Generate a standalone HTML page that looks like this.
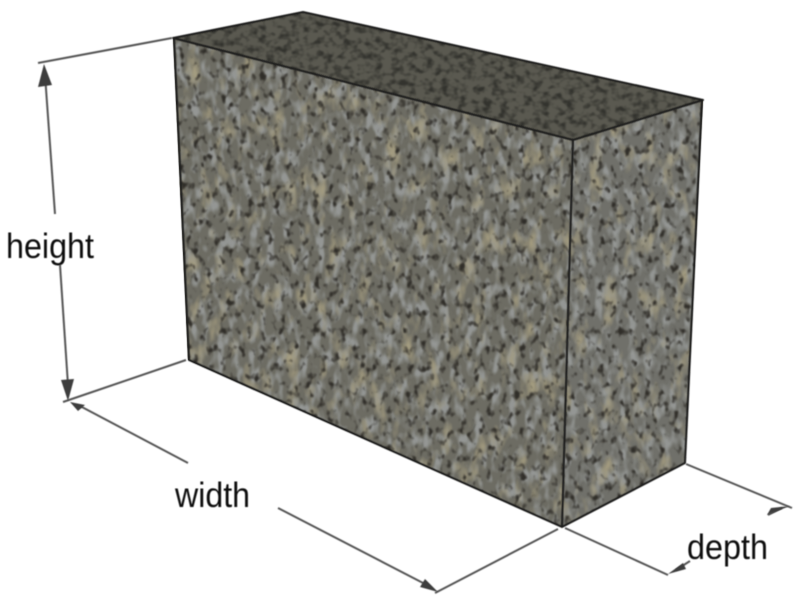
<!DOCTYPE html>
<html lang="en">
<head>
<meta charset="utf-8">
<title>Gabion dimensions</title>
<style>
html,body{margin:0;padding:0;background:#fff;}
svg{display:block;}
text{font-family:"Liberation Sans",sans-serif;font-size:35px;fill:#111;}
</style>
</head>
<body>
<svg width="800" height="600" viewBox="0 0 800 600" xmlns="http://www.w3.org/2000/svg">
<defs>
  <clipPath id="frontClip"><polygon points="173,38 573,140 562,527 188,360"/></clipPath>
  <clipPath id="sideClip"><polygon points="573,140 703,100 685,463 562,527"/></clipPath>
  <clipPath id="topClip"><polygon points="173,38 303,12 703,100 573,140"/></clipPath>

  <filter id="darkSpots" filterUnits="userSpaceOnUse" x="0" y="0" width="800" height="600" color-interpolation-filters="sRGB">
    <feTurbulence type="fractalNoise" baseFrequency="0.15 0.11" numOctaves="2" seed="7" result="n"/>
    <feColorMatrix in="n" type="matrix" values="0 0 0 0 0.19  0 0 0 0 0.18  0 0 0 0 0.16  4.5 0 0 0 -2.5"/>
    <feGaussianBlur stdDeviation="0.7"/>
  </filter>
  <filter id="lightStones" filterUnits="userSpaceOnUse" x="0" y="0" width="800" height="600" color-interpolation-filters="sRGB">
    <feTurbulence type="fractalNoise" baseFrequency="0.12 0.06" numOctaves="2" seed="21" result="n"/>
    <feColorMatrix in="n" type="matrix" values="0 0 0 0 0.58  0 0 0 0 0.59  0 0 0 0 0.58  0 4 0 0 -1.85"/>
    <feGaussianBlur stdDeviation="0.8"/>
  </filter>
  <filter id="tanBlotches" filterUnits="userSpaceOnUse" x="0" y="0" width="800" height="600" color-interpolation-filters="sRGB">
    <feTurbulence type="fractalNoise" baseFrequency="0.07 0.035" numOctaves="3" seed="12" result="n"/>
    <feColorMatrix in="n" type="matrix" values="0 0 0 0 0.64  0 0 0 0 0.61  0 0 0 0 0.50  0 0 3 0 -1.6"/>
    <feGaussianBlur stdDeviation="0.9"/>
  </filter>
  <filter id="topGrain" filterUnits="userSpaceOnUse" x="0" y="0" width="800" height="600" color-interpolation-filters="sRGB">
    <feTurbulence type="fractalNoise" baseFrequency="0.12 0.15" numOctaves="2" seed="4" result="n"/>
    <feColorMatrix in="n" type="matrix" values="0 0 0 0 0.2  0 0 0 0 0.2  0 0 0 0 0.18  3 0 0 0 -1.3"/>
    <feGaussianBlur stdDeviation="0.6"/>
  </filter>
  <filter id="softer" filterUnits="userSpaceOnUse" x="0" y="0" width="800" height="600"><feGaussianBlur stdDeviation="0.45"/></filter>
</defs>

<rect width="800" height="600" fill="#ffffff"/>

<g clip-path="url(#topClip)">
  <rect width="800" height="600" fill="#5a5950"/>
  <rect width="800" height="600" filter="url(#topGrain)"/>
</g>

<g clip-path="url(#frontClip)">
  <rect width="800" height="600" fill="#6d6c63"/>
  <rect width="800" height="600" filter="url(#lightStones)"/>
  <rect width="800" height="600" filter="url(#tanBlotches)"/>
  <rect width="800" height="600" filter="url(#darkSpots)"/>
</g>

<g clip-path="url(#sideClip)">
  <rect width="800" height="600" fill="#70706a"/>
  <rect width="800" height="600" filter="url(#lightStones)" transform="translate(20 -15)"/>
  <rect width="800" height="600" filter="url(#tanBlotches)" transform="translate(-40 30)"/>
  <rect width="800" height="600" filter="url(#darkSpots)" transform="translate(-15 10)"/>
</g>

<g fill="none" stroke="#1c1c1a" stroke-width="2" stroke-linejoin="round" filter="url(#softer)">
  <polygon points="173,38 303,12 703,100 573,140"/>
  <polyline points="174,38 189,360 562,527 685,463 702,100"/>
  <line x1="573" y1="140" x2="562" y2="527"/>
</g>

<g stroke="#555" stroke-width="2" fill="none" filter="url(#softer)">
  <line x1="38" y1="63" x2="172" y2="38"/>
  <line x1="63" y1="402" x2="186" y2="360"/>
  <line x1="45" y1="75" x2="55" y2="214"/>
  <line x1="60" y1="265" x2="68" y2="385"/>
  <line x1="80" y1="406" x2="188" y2="463"/>
  <line x1="278" y1="508" x2="425" y2="584"/>
  <line x1="435" y1="593" x2="558" y2="529"/>
  <line x1="565" y1="528" x2="668" y2="575"/>
  <line x1="686" y1="464" x2="792" y2="508"/>
  <line x1="676" y1="570" x2="690" y2="561"/>
  <line x1="768" y1="515" x2="782" y2="508"/>
</g>

<g fill="#3c3c3c" filter="url(#softer)">
  <polygon points="44,64 38,87 52,85"/>
  <polygon points="68,401 61,380 74,379"/>
  <polygon points="70,402 85,405 78,411"/>
  <polygon points="438,592 420,587 425,579"/>
  <polygon points="668,574 683,563 686,569"/>
  <polygon points="790,506 767,515 771,508"/>
</g>

<g filter="url(#softer)">
  <text x="6" y="258" textLength="88" lengthAdjust="spacingAndGlyphs">height</text>
  <text x="175" y="507" textLength="75" lengthAdjust="spacingAndGlyphs">width</text>
  <text x="687" y="559" textLength="81" lengthAdjust="spacingAndGlyphs">depth</text>
</g>
</svg>
</body>
</html>
